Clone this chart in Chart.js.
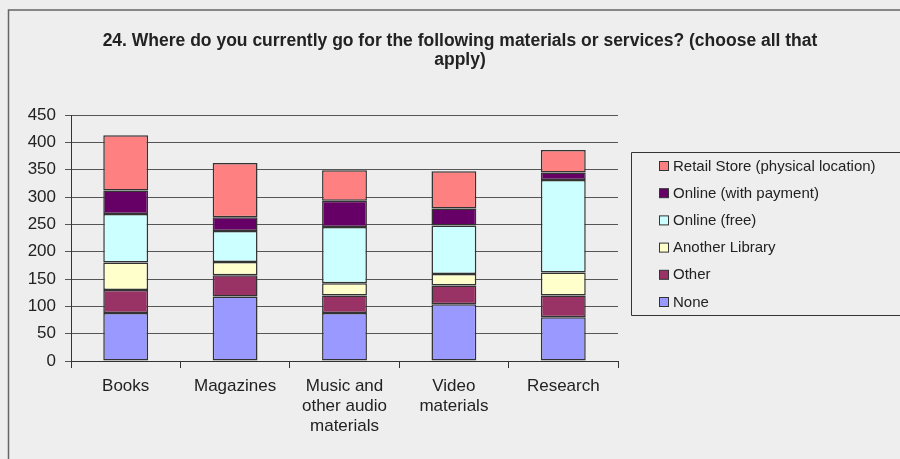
<!DOCTYPE html>
<html>
<head>
<meta charset="utf-8">
<style>
  html, body { margin: 0; padding: 0; background: #eeeeee; }
  #wrap { position: relative; width: 900px; height: 459px; }
  canvas { display: block; }
</style>
<script src="https://cdn.jsdelivr.net/npm/chart.js@4/dist/chart.umd.min.js"></script>
</head>
<body>
<div id="wrap"><canvas id="c" width="900" height="459"></canvas></div>
<script>
// Survey question 24: where respondents go for each kind of material
const categories = ['Books', 'Magazines', ['Music and', 'other audio', 'materials'], ['Video', 'materials'], 'Research'];

const noneVals      = [88, 118, 88, 104, 80];
const otherVals     = [42, 39, 32, 34, 40];
const libraryVals   = [50, 24, 22, 21, 42];
const onlineFree    = [89, 57, 103, 89, 169];
const onlinePaid    = [43, 25, 48, 31, 14];
const retailVals    = [101, 99, 56, 68, 41];

const yTicks = [0, 50, 100, 150, 200, 250, 300, 350, 400, 450];

const titleLines = ['24. Where do you currently go for the following materials or services? (choose all that', 'apply)'];

const FONT = '"Liberation Sans", Arial, sans-serif';

const datasets = [
  { label: 'None', data: noneVals, backgroundColor: '#9999FF' },
  { label: 'Other', data: otherVals, backgroundColor: '#993366' },
  { label: 'Another Library', data: libraryVals, backgroundColor: '#FFFFCC' },
  { label: 'Online (free)', data: onlineFree, backgroundColor: '#CCFFFF' },
  { label: 'Online (with payment)', data: onlinePaid, backgroundColor: '#660066' },
  { label: 'Retail Store (physical location)', data: retailVals, backgroundColor: '#FF8080' }
].map(d => Object.assign(d, { borderColor: '#333333', borderWidth: 1.5, borderSkipped: false }));

// Frame, title and boxed legend drawn around the plot
const decor = {
  id: 'decor',
  beforeDraw(chart) {
    const ctx = chart.ctx;
    ctx.save();
    ctx.fillStyle = '#eeeeee';
    ctx.fillRect(0, 0, chart.width, chart.height);
    ctx.strokeStyle = '#666666';
    ctx.lineWidth = 1.5;
    ctx.beginPath();
    ctx.moveTo(900, 10);
    ctx.lineTo(8.5, 10);
    ctx.lineTo(8.5, 459);
    ctx.stroke();
    ctx.restore();
  },
  afterDraw(chart) {
    const ctx = chart.ctx;
    ctx.save();
    // title
    ctx.fillStyle = '#222222';
    ctx.font = 'bold 17.5px ' + FONT;
    ctx.textAlign = 'center';
    ctx.textBaseline = 'middle';
    ctx.fillText(titleLines[0], 460, 41);
    ctx.fillText(titleLines[1], 460, 60);

    // legend box
    ctx.strokeStyle = '#333333';
    ctx.lineWidth = 1;
    ctx.beginPath();
    ctx.moveTo(905, 152.5);
    ctx.lineTo(631.5, 152.5);
    ctx.lineTo(631.5, 315.5);
    ctx.lineTo(905, 315.5);
    ctx.stroke();

    ctx.font = '15px ' + FONT;
    ctx.textAlign = 'left';
    const items = chart.data.datasets.slice().reverse();
    items.forEach((ds, i) => {
      const cy = 166 + i * 27.2;
      ctx.fillStyle = ds.backgroundColor;
      ctx.fillRect(659.5, cy - 4.5, 9, 9);
      ctx.strokeStyle = '#333333';
      ctx.strokeRect(659.5, cy - 4.5, 9, 9);
      ctx.fillStyle = '#222222';
      ctx.fillText(ds.label, 673, cy + 0.5);
    });
    ctx.restore();
  }
};

new Chart(document.getElementById('c'), {
  type: 'bar',
  data: { labels: categories, datasets },
  options: {
    responsive: false,
    animation: false,
    layout: { padding: { left: 8, right: 282, top: 115, bottom: 0 } },
    plugins: {
      legend: { display: false },
      title: { display: false },
      tooltip: { enabled: false }
    },
    datasets: { bar: { categoryPercentage: 1, barPercentage: 0.41 } },
    scales: {
      x: {
        stacked: true,
        offset: true,
        afterFit(scale) { scale.height = 98; },
        grid: { offset: true, drawOnChartArea: false, drawTicks: true, tickLength: 7, color: '#333333', lineWidth: 1 },
        border: { display: true, color: '#333333', width: 1 },
        ticks: { color: '#222222', font: { family: FONT, size: 17, lineHeight: 1.15 }, padding: 9, maxRotation: 0, autoSkip: false }
      },
      y: {
        stacked: true,
        min: 0,
        max: 450,
        afterFit(scale) { scale.width = 63; },
        afterBuildTicks(scale) { scale.ticks = yTicks.map(v => ({ value: v })); },
        grid: { color: '#555555', lineWidth: 1, drawTicks: true, tickLength: 6 },
        border: { display: true, color: '#333333', width: 1 },
        ticks: { color: '#222222', font: { family: FONT, size: 17 }, padding: 9 }
      }
    }
  },
  plugins: [decor]
});
</script>
</body>
</html>
